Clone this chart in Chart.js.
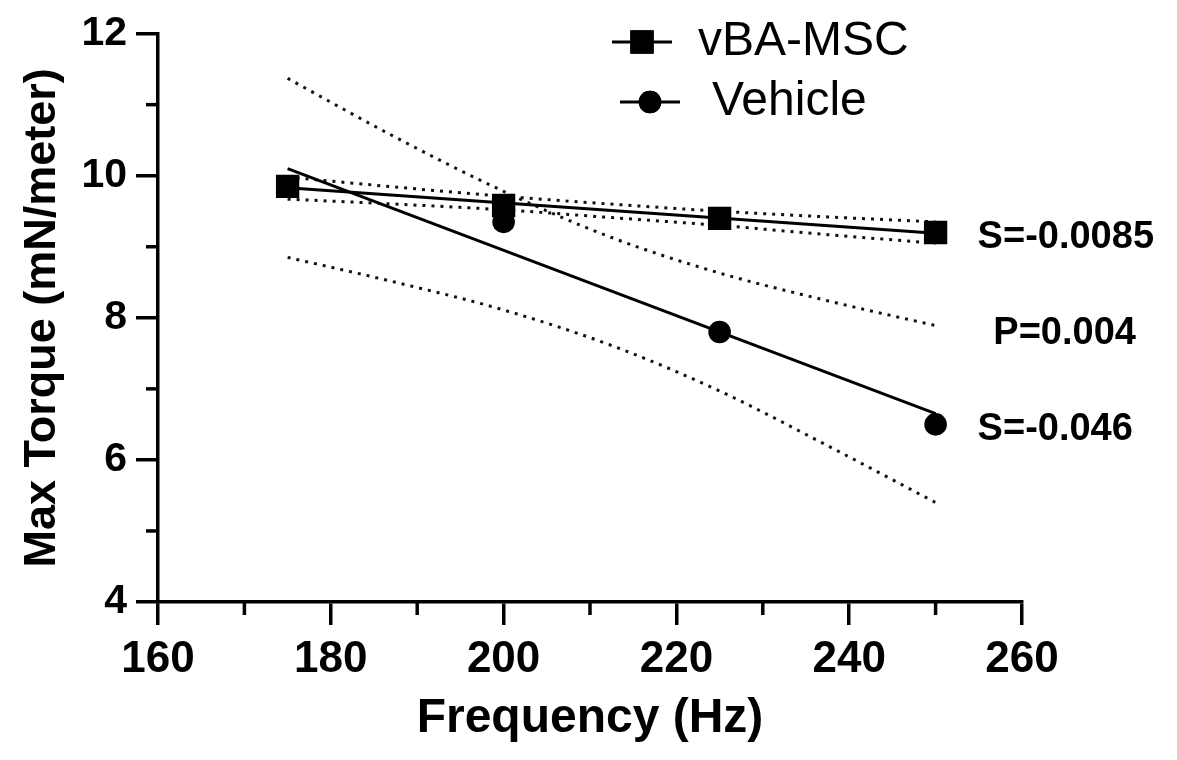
<!DOCTYPE html>
<html>
<head>
<meta charset="utf-8">
<script src="https://cdn.jsdelivr.net/npm/chart.js@4.4.1/dist/chart.umd.min.js"></script>
<style>
  html, body { margin: 0; padding: 0; background: #fff; }
  #wrap { width: 1177px; height: 760px; }
</style>
</head>
<body>
<div id="wrap"><canvas id="torqueChart" width="1177" height="760"></canvas></div>
<script>
// measured points
const freqs = [175, 200, 225, 250];
const mscTorque = [9.85, 9.58, 9.4, 9.2];
const vehicleTorque = [9.85, 9.35, 7.8, 6.5];

// regression lines, read at both ends
const fitFreqs = [175, 250];
const mscFit = [9.83, 9.19];
const vehicleFit = [10.1, 6.65];

// dotted confidence bands
const bandFreqs = [175, 187.5, 200, 212.5, 225, 237.5, 250];
const mscUpper = [9.98, 9.84, 9.71, 9.6, 9.5, 9.42, 9.35];
const mscLower = [9.67, 9.6, 9.52, 9.41, 9.3, 9.17, 9.05];
const vehicleUpper = [11.37, 10.54, 9.78, 9.13, 8.63, 8.24, 7.89];
const vehicleLower = [8.85, 8.5, 8.11, 7.61, 6.97, 6.2, 5.4];

// axes
const xTicks = [160, 180, 200, 220, 240, 260];
const xMinor = [170, 190, 210, 230, 250];
const yTicks = [4, 6, 8, 10, 12];
const yMinor = [5, 7, 9, 11];

const seriesNames = ["vBA-MSC", "Vehicle"];
const slopeNotes = ["S=-0.0085", "P=0.004", "S=-0.046"];

const FONT = "'Liberation Sans', Arial, Helvetica, sans-serif";
const pts = (xs, ys) => xs.map((x, i) => ({ x: x, y: ys[i] }));

const band = (xs, ys) => ({
  data: pts(xs, ys),
  showLine: true,
  borderColor: "#111",
  borderWidth: 3,
  borderDash: [3, 6],
  pointRadius: 0,
  cubicInterpolationMode: "monotone",
});
const fit = (ys) => ({
  data: pts(fitFreqs, ys),
  showLine: true,
  borderColor: "#000",
  borderWidth: 3,
  pointRadius: 0,
});

// minor ticks, legend and slope notes
const extras = {
  id: "extras",
  afterDraw(chart) {
    const c = chart.ctx;
    const xs = chart.scales.x, ys = chart.scales.y;
    const area = chart.chartArea;
    c.save();
    c.strokeStyle = "#000";
    c.lineWidth = 3.5;
    yMinor.forEach((v) => {
      const py = ys.getPixelForValue(v);
      c.beginPath();
      c.moveTo(area.left - 12, py);
      c.lineTo(area.left, py);
      c.stroke();
    });
    xMinor.forEach((v) => {
      const px = xs.getPixelForValue(v);
      c.beginPath();
      c.moveTo(px, area.bottom);
      c.lineTo(px, area.bottom + 13);
      c.stroke();
    });

    // legend
    c.font = "48px " + FONT;
    c.textBaseline = "middle";
    c.fillStyle = "#000";
    c.lineWidth = 3;
    const rows = [
      { y: 42, x0: 612, style: "rect", tx: 698 },
      { y: 102, x0: 620, style: "circle", tx: 712 },
    ];
    rows.forEach((r, i) => {
      c.beginPath();
      c.moveTo(r.x0, r.y);
      c.lineTo(r.x0 + 60, r.y);
      c.stroke();
      const ds = chart.data.datasets[i];
      Chart.helpers.drawPoint(c, { pointStyle: r.style, radius: ds.pointRadius, rotation: 0, borderWidth: 0 }, r.x0 + 30, r.y);
      c.fill();
      c.fillText(seriesNames[i], r.tx, r.y);
    });

    // slope / p notes
    c.font = "bold 38px " + FONT;
    const right = xs.getPixelForValue(freqs[freqs.length - 1]) + 42;
    const yMsc = ys.getPixelForValue(mscTorque[mscTorque.length - 1]) + 5;
    const yVeh = ys.getPixelForValue(vehicleTorque[vehicleTorque.length - 1]) + 5;
    c.textAlign = "left";
    c.fillText(slopeNotes[0], right, yMsc);
    c.fillText(slopeNotes[2], right, yVeh);
    c.textAlign = "center";
    c.fillText(slopeNotes[1], right + 87, (yMsc + yVeh) / 2);
    c.restore();
  },
};

new Chart(document.getElementById("torqueChart"), {
  type: "scatter",
  data: {
    datasets: [
      {
        label: seriesNames[0],
        data: pts(freqs, mscTorque),
        pointStyle: "rect",
        pointRadius: 16.5,
        pointHoverRadius: 16.5,
        backgroundColor: "#000",
        borderWidth: 0,
      },
      {
        label: seriesNames[1],
        data: pts(freqs, vehicleTorque),
        pointStyle: "circle",
        pointRadius: 11.3,
        pointHoverRadius: 11.3,
        backgroundColor: "#000",
        borderWidth: 0,
      },
      fit(mscFit),
      fit(vehicleFit),
      band(bandFreqs, mscUpper),
      band(bandFreqs, mscLower),
      band(bandFreqs, vehicleUpper),
      band(bandFreqs, vehicleLower),
    ],
  },
  options: {
    responsive: false,
    animation: false,
    layout: { padding: { top: 28, right: 155, left: 0, bottom: 0 } },
    plugins: {
      legend: { display: false },
      tooltip: { enabled: false },
    },
    scales: {
      x: {
        type: "linear",
        min: 160,
        max: 260,
        afterBuildTicks: (s) => { s.ticks = xTicks.map((v) => ({ value: v })); },
        afterFit: (s) => { s.height = 158; },
        grid: { drawOnChartArea: false, color: "#000", lineWidth: 3.5, tickLength: 23 },
        border: { display: true, color: "#000", width: 3.5 },
        ticks: { color: "#000", padding: 8, maxRotation: 0, font: { family: FONT, size: 44, weight: "bold" } },
        title: {
          display: true,
          text: "Frequency (Hz)",
          color: "#000",
          padding: { bottom: 12 },
          font: { family: FONT, size: 48, weight: "bold" },
        },
      },
      y: {
        type: "linear",
        min: 4,
        max: 12,
        afterBuildTicks: (s) => { s.ticks = yTicks.map((v) => ({ value: v })); },
        afterFit: (s) => { s.width = 158; },
        grid: { drawOnChartArea: false, color: "#000", lineWidth: 3.5, tickLength: 22 },
        border: { display: true, color: "#000", width: 3.5 },
        ticks: { color: "#000", padding: 9, font: { family: FONT, size: 41, weight: "bold" } },
        title: {
          display: true,
          text: "Max Torque (mN/meter)",
          color: "#000",
          padding: { top: 16 },
          font: { family: FONT, size: 45, weight: "bold" },
        },
      },
    },
  },
  plugins: [extras],
});
</script>
</body>
</html>
